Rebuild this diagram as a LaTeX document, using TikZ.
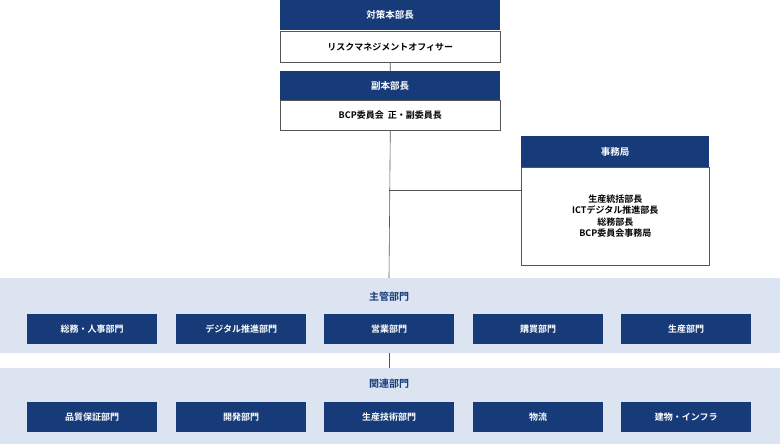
\documentclass[tikz,border=0pt]{standalone}
\usepackage{fontspec}
\setmainfont{Noto Sans CJK JP}[BoldFont={Noto Sans CJK JP Bold}]
\definecolor{navy}{HTML}{163B78}
\definecolor{band}{HTML}{DCE4F1}
\definecolor{edge}{HTML}{555555}
\begin{document}
\begin{tikzpicture}[x=1pt,y=-1pt,
  hdr/.style={fill=navy,text=white,font=\bfseries\fontsize{9.5}{11}\selectfont,inner sep=0pt,anchor=north west,minimum height=30pt},
  sub/.style={fill=white,draw=edge,line width=0.6pt,text=black,font=\bfseries\fontsize{9}{11}\selectfont,inner sep=0pt,anchor=north west},
  unit/.style={fill=navy,text=white,font=\bfseries\fontsize{9}{11}\selectfont,inner sep=0pt,anchor=north west,minimum width=130pt,minimum height=30pt},
  bandtitle/.style={text=navy,font=\bfseries\fontsize{10}{12}\selectfont},
  conn/.style={draw=edge,line width=0.6pt}]
\useasboundingbox (0,0) rectangle (780,444);
\fill[band] (0,278) rectangle (780,353);
\fill[band] (0,368) rectangle (780,444);
% top
\node[hdr,minimum width=220pt] (t1) at (280,0) {対策本部長};
\node[sub,minimum width=220pt,minimum height=31pt] (t2) at (280,31) {リスクマネジメントオフィサー};
\node[hdr,minimum width=220pt,minimum height=29pt] (v1) at (280,71) {副本部長};
\node[sub,minimum width=220pt,minimum height=30pt] (v2) at (280,100) {BCP委員会\ \ 正・副委員長};
\node[hdr,minimum width=188pt,minimum height=31pt] (s1) at (521,136) {事務局};
\node[sub,minimum width=188pt,minimum height=98pt,align=center,font=\bfseries\fontsize{9}{11.5}\selectfont] (s2) at (521,167) {生産統括部長\\ICTデジタル推進部長\\総務部長\\BCP委員会事務局};
\coordinate (j) at (389,190);
\coordinate (b1) at (389,278);
\coordinate (b1e) at (389,353);
\coordinate (b2) at (389,368);
\draw[conn] (t2.south) -- (v1.north);
\draw[conn] (v2.south) -- (b1);
\draw[conn] (j) -- (j -| s2.west);
\draw[conn] (b1e) -- (b2);
\node[bandtitle] (m) at (389,297) {主管部門};
\node[bandtitle] (r) at (389,384) {関連部門};
\node[unit] (m1) at (27,314) {総務・人事部門};
\node[unit] (m2) at (176,314) {デジタル推進部門};
\node[unit] (m3) at (324,314) {営業部門};
\node[unit] (m4) at (473,314) {購買部門};
\node[unit] (m5) at (621,314) {生産部門};
\node[unit] (r1) at (27,402) {品質保証部門};
\node[unit] (r2) at (176,402) {開発部門};
\node[unit] (r3) at (324,402) {生産技術部門};
\node[unit] (r4) at (473,402) {物流};
\node[unit] (r5) at (621,402) {建物・インフラ};
\end{tikzpicture}
\end{document}
